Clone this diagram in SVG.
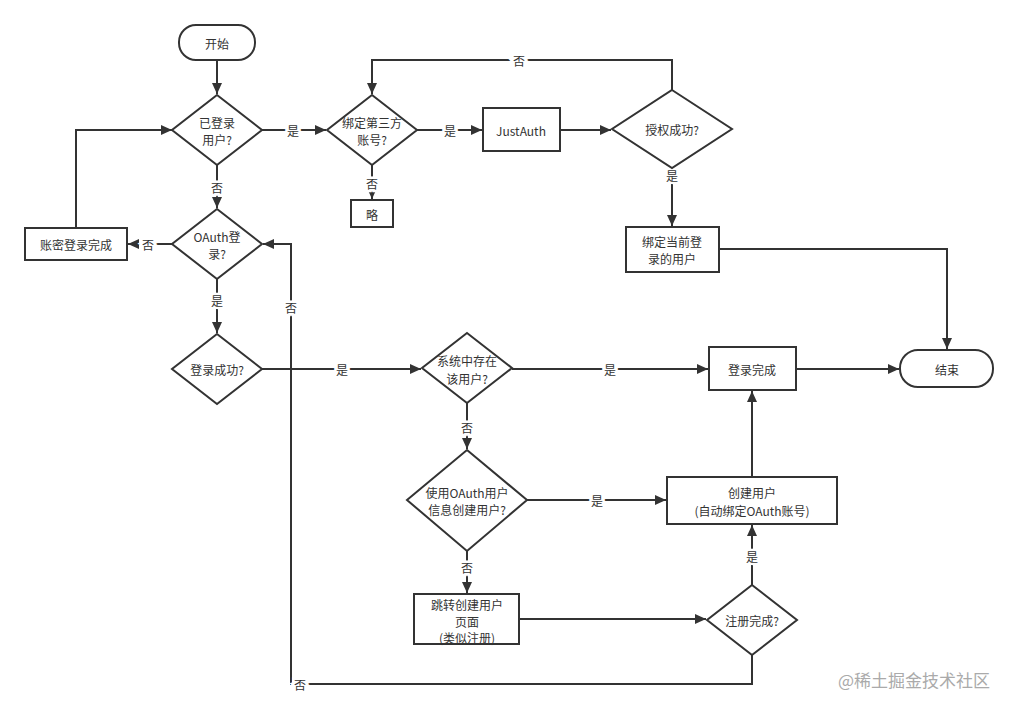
<svg xmlns="http://www.w3.org/2000/svg" width="1019" height="710" viewBox="0 0 1019 710">
<style>
.n{fill:#fff;stroke:#333;stroke-width:2}
.c{fill:none;stroke:#333;stroke-width:2}
text{font-family:"Microsoft YaHei","Noto Sans CJK SC","Noto Sans",sans-serif;font-size:12px;fill:#333;text-anchor:middle;dominant-baseline:central}
.l{stroke:#fff;stroke-width:5;paint-order:stroke}
.w{font-size:17px;fill:#aaa;text-anchor:start}
</style>
<defs>
<marker id="a" markerUnits="userSpaceOnUse" markerWidth="12" markerHeight="10" refX="11" refY="5" orient="auto">
<path d="M0,0 L11,5 L0,10 Z" fill="#333"/>
</marker>
</defs>
<rect width="1019" height="710" fill="#fff"/>
<g id="connectors">
<path class="c" d="M217,60 V94" marker-end="url(#a)"/>
<path class="c" d="M262,130 H326" marker-end="url(#a)"/>
<path class="c" d="M417,130 H482" marker-end="url(#a)"/>
<path class="c" d="M560,130 H611" marker-end="url(#a)"/>
<path class="c" d="M672,90 V60 H372 V94" marker-end="url(#a)"/>
<path class="c" d="M672,168 V226" marker-end="url(#a)"/>
<path class="c" d="M372,165 V199" marker-end="url(#a)"/>
<path class="c" d="M719,249 H947 V349" marker-end="url(#a)"/>
<path class="c" d="M217,165 V208" marker-end="url(#a)"/>
<path class="c" d="M172,244 H128" marker-end="url(#a)"/>
<path class="c" d="M76,228 V130 H172" marker-end="url(#a)"/>
<path class="c" d="M217,279 V333" marker-end="url(#a)"/>
<path class="c" d="M262,369 H421" marker-end="url(#a)"/>
<path class="c" d="M512,369 H708" marker-end="url(#a)"/>
<path class="c" d="M467,403 V449" marker-end="url(#a)"/>
<path class="c" d="M527,500 H666" marker-end="url(#a)"/>
<path class="c" d="M467,551 V593" marker-end="url(#a)"/>
<path class="c" d="M519,619 H706" marker-end="url(#a)"/>
<path class="c" d="M752,585 V525" marker-end="url(#a)"/>
<path class="c" d="M752,655 V684 H291 V244 H263" marker-end="url(#a)"/>
<path class="c" d="M752,477 V391" marker-end="url(#a)"/>
<path class="c" d="M796,369 H899" marker-end="url(#a)"/>
<text class="l" x="293" y="130">是</text>
<text class="l" x="450" y="130">是</text>
<text class="l" x="519" y="60">否</text>
<text class="l" x="672" y="175">是</text>
<text class="l" x="372" y="183">否</text>
<text class="l" x="217" y="187">否</text>
<text class="l" x="148" y="244">否</text>
<text class="l" x="217" y="300">是</text>
<text class="l" x="342" y="369">是</text>
<text class="l" x="610" y="369">是</text>
<text class="l" x="467" y="427">否</text>
<text class="l" x="597" y="500">是</text>
<text class="l" x="467" y="567">否</text>
<text class="l" x="752" y="556">是</text>
<text class="l" x="300" y="684">否</text>
<text class="l" x="291" y="307">否</text>
</g>
<g id="start"><rect class="n" x="179" y="25" width="76" height="35" rx="17"/><text x="217" y="43">开始</text></g>
<g id="logged"><path class="n" d="M217,95 L262,130 L217,165 L172,130 Z"/><text x="217" y="122">已登录</text><text x="217" y="139">用户?</text></g>
<g id="bind3rd"><path class="n" d="M372,95 L417,130 L372,165 L327,130 Z"/><text x="372" y="122">绑定第三方</text><text x="372" y="139">账号?</text></g>
<g id="skip"><rect class="n" x="351" y="200" width="42" height="27"/><text x="372" y="214">略</text></g>
<g id="justauth"><rect class="n" x="483" y="108" width="77" height="43"/><text x="521" y="130">JustAuth</text></g>
<g id="authok"><path class="n" d="M672,90 L732,129 L672,168 L612,129 Z"/><text x="672" y="129">授权成功?</text></g>
<g id="bindcur"><rect class="n" x="626" y="227" width="93" height="45"/><text x="672" y="241">绑定当前登</text><text x="672" y="258">录的用户</text></g>
<g id="end"><rect class="n" x="900" y="350" width="93" height="37" rx="18"/><text x="947" y="369">结束</text></g>
<g id="oauth"><path class="n" d="M217,209 L262,244 L217,279 L172,244 Z"/><text x="217" y="236">OAuth登</text><text x="217" y="253">录?</text></g>
<g id="pwdlogin"><rect class="n" x="25" y="228" width="102" height="32"/><text x="76" y="244">账密登录完成</text></g>
<g id="loginok"><path class="n" d="M217,334 L262,369 L217,404 L172,369 Z"/><text x="217" y="369">登录成功?</text></g>
<g id="exists"><path class="n" d="M467,333 L512,368 L467,403 L422,368 Z"/><text x="467" y="360">系统中存在</text><text x="467" y="378">该用户?</text></g>
<g id="done"><rect class="n" x="709" y="347" width="87" height="43"/><text x="752" y="369">登录完成</text></g>
<g id="useoauth"><path class="n" d="M467,450 L527,500 L467,551 L407,500 Z"/><text x="467" y="492">使用OAuth用户</text><text x="467" y="509">信息创建用户?</text></g>
<g id="create"><rect class="n" x="667" y="477" width="170" height="47"/><text x="752" y="492">创建用户</text><text x="752" y="510">(自动绑定OAuth账号)</text></g>
<g id="jump"><rect class="n" x="414" y="594" width="105" height="50"/><text x="467" y="604">跳转创建用户</text><text x="467" y="621">页面</text><text x="467" y="637">(类似注册)</text></g>
<g id="regok"><path class="n" d="M752,585 L797,620 L752,655 L707,620 Z"/><text x="752" y="620">注册完成?</text></g>
<text class="w" x="838" y="679">@稀土掘金技术社区</text>
</svg>
